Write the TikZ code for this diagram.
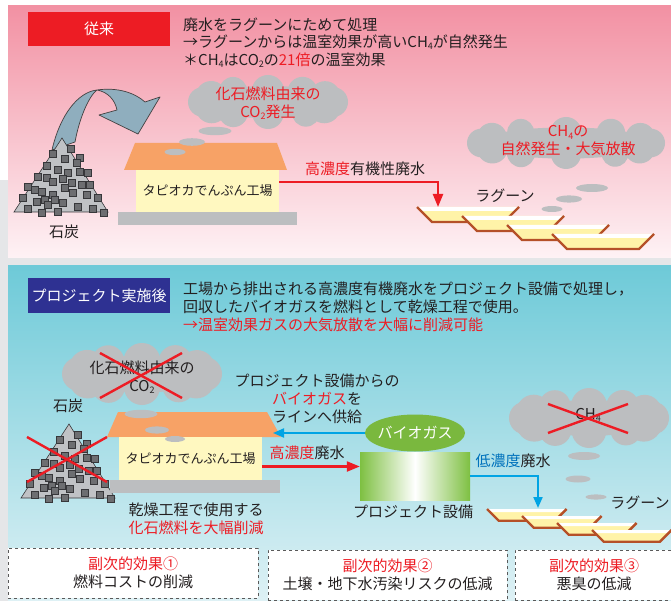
\documentclass[tikz,border=0pt]{standalone}
\usepackage{fontspec}
\setmainfont{Noto Sans CJK JP}
\usetikzlibrary{shapes.geometric,arrows.meta,calc}

\definecolor{pinktop}{RGB}{242,145,163}
\definecolor{pinkbot}{RGB}{254,242,245}
\definecolor{tealtop}{RGB}{110,202,216}
\definecolor{tealbot}{RGB}{222,241,245}
\definecolor{edgegray}{RGB}{229,230,232}
\definecolor{labred}{RGB}{237,28,36}
\definecolor{labblue}{RGB}{46,49,146}
\definecolor{ink}{RGB}{35,31,32}
\definecolor{txtred}{RGB}{237,28,36}
\definecolor{txtblue}{RGB}{0,114,188}
\definecolor{flowblue}{RGB}{0,164,228}
\definecolor{smoke}{RGB}{188,190,192}
\definecolor{roofc}{RGB}{247,162,102}
\definecolor{wallc}{RGB}{255,248,192}
\definecolor{basegray}{RGB}{188,190,192}
\definecolor{coalfill}{RGB}{192,194,197}
\definecolor{lump}{RGB}{109,110,113}
\definecolor{lumpedge}{RGB}{55,55,58}
\definecolor{ribbon}{RGB}{143,174,190}
\definecolor{pondrim}{RGB}{181,80,40}
\definecolor{pondwater}{RGB}{255,243,168}
\definecolor{biogreen}{RGB}{122,184,62}
\definecolor{tankgreen}{RGB}{126,192,66}
\definecolor{dashgray}{RGB}{90,90,90}

\newcommand\myfs[2]{\fontsize{#1}{#2}\selectfont}
\newcommand\lowsub[1]{\raisebox{-0.15em}{\fontsize{9}{9}\selectfont #1}}
% smoke cloud: centre x, centre y, half width, half height
\newcommand\smokecloud[4]{%
  \fill[smoke] (#1,#2) ellipse [x radius={#3-0.5*#4}, y radius={0.6*#4}];
  \foreach \t/\k in {0/0.55,28/0.6,55/0.52,90/0.58,122/0.54,152/0.6,180/0.55,
                     208/0.58,238/0.52,270/0.6,302/0.55,332/0.57}
    \fill[smoke] ({#1+(#3-\k*#4)*cos(\t)},{#2+(1-\k)*#4*sin(\t)}) circle [radius={\k*#4}];
}

\tikzset{
  puff/.style={fill=smoke},
  labelbox/.style={minimum width=142, text=white},
  wallbox/.style={fill=wallc, minimum width=143, font=\myfs{13}{15}},
  redflow/.style={draw=txtred, line width=2.2, -{Triangle[length=13pt,width=10pt]}},
  blueflow/.style={draw=flowblue, line width=2, -{Triangle[length=11pt,width=9pt]}},
  cross/.style={draw=txtred, line width=2.4},
  effbox/.style={draw=dashgray, fill=white, dashed, line width=0.8, align=center,
    font=\myfs{15}{18}},
  coalpile/.pic={
    \filldraw[fill=coalfill, draw=lumpedge, line width=0.6] (0,0) -- (-48,74) -- (46,74) -- cycle;
    \foreach \x/\y in {9/11,-9/16,3/21,18/20,15/25,-15/28,-4/32,6/35,18/34,26/35,
        -24/39,-15/40,-9/44,1/41,10/45,20/47,28/47,-34/49,-27/52,-20/54,-9/57,3/50,
        11/55,25/57,36/60,-39/60,-25/64,-17/62,-7/62,1/65,16/69,31/71,-34/71,-20/75,
        -4/74,42/75,-14/67}
      \filldraw[fill=lump, draw=lumpedge, line width=0.6] (\x-3.7,\y-3.7) rectangle ++(7.4,7.4);
  },
  pond/.pic={
    \fill[pondwater] (0,0) -- (102,0) -- (87,15) -- (15,15) -- cycle;
    \fill[white] (0,0) -- (102,0) -- (98,4) -- (4,4) -- cycle;
    \draw[pondrim, line width=2.4, line join=miter] (0,0) -- (15,15) -- (87,15) -- (102,0);
  }
}

\begin{document}
\begin{tikzpicture}[x=1pt, y=-1pt,
  every node/.style={font=\myfs{15}{18}, text=ink, inner sep=0pt}]
\useasboundingbox (0,0) rectangle (671,601);

% page ground and the two panels
\fill[white] (0,0) rectangle (671,601);
\fill[edgegray] (0,180) rectangle (8,601);
\fill[edgegray] (0,258) rectangle (671,266);
\shade[top color=pinktop, bottom color=pinkbot] (8,6) rectangle (671,258);
\shade[top color=tealtop, bottom color=tealbot] (8,266) rectangle (671,601);

% ================= upper panel: conventional process =================
\node[labelbox, fill=labred, minimum height=34] (old) at (99,29) {従来};
\node[anchor=west] (oldA) at (183,25) {廃水をラグーンにためて処理};
\node[anchor=west] (oldB) at (183,42.5) {→ラグーンからは温室効果が高いCH\lowsub{4}が自然発生};
\node[anchor=west] (oldC) at (183,60) {＊CH\lowsub{4}はCO\lowsub{2}の\textcolor{txtred}{21倍}の温室効果};

% emission clouds
\smokecloud{268}{102}{80}{27}
\node[text=txtred, align=center] (cloudAt) at (268,103) {化石燃料由来の\\CO\lowsub{2}発生};
\smokecloud{566}{143}{99}{26}
\node[text=txtred, align=center] (cloudBt) at (568,141) {CH\lowsub{4}の\\自然発生・大気放散};

% coal fed to the factory
\filldraw[fill=ribbon, draw=ink!85, line width=0.7, line join=round]
  (52,150) .. controls (60,115) and (78,92) .. (97,90)
  .. controls (118,87) and (135,93) .. (145,102) -- (160,97) -- (138,134) -- (99,115)
  -- (117,110) .. controls (115,100) and (108,92) .. (97,90)
  .. controls (90,95) and (80,115) .. (75,142) -- cycle;
\pic at (62,138) {coalpile};
\node (coalA) at (64,232) {石炭};

% factory
\fill[roofc] (124,170) -- (135,143) -- (277,143) -- (287,170) -- cycle;
\node[wallbox, minimum height=42] (facA) at (207.5,191) {タピオカでんぷん工場};
\fill[basegray] (118,212) rectangle (297,225);
\fill[puff] (215,131) ellipse [x radius=16.5, y radius=4.2];
\fill[puff] (192,142) ellipse [x radius=13, y radius=3.8];
\fill[puff] (175,152) ellipse [x radius=10.5, y radius=3.2];

% lagoons
\pic at (417,207) {pond};
\pic at (462,216) {pond};
\pic at (507,225) {pond};
\pic at (552,234) {pond};
\coordinate (pondA) at (438,207);
\node (lagA) at (505,196) {ラグーン};
\fill[puff] (592,188) ellipse [x radius=16, y radius=4];
\fill[puff] (569,199) ellipse [x radius=13, y radius=3.6];
\fill[puff] (552,209) ellipse [x radius=10.5, y radius=3];

% waste water to the lagoons
\coordinate (outA) at ([yshift=9pt]facA.east);
\draw[redflow] (outA) -| (pondA);
\node (wasteA) at (365,169) {\textcolor{txtred}{高濃度}有機性廃水};

% ================= lower panel: after the project =================
\node[labelbox, fill=labblue, minimum height=35] (new) at (99,295.5) {プロジェクト実施後};
\node[anchor=west] (newA) at (183,289) {工場から排出される高濃度有機廃水をプロジェクト設備で処理し，};
\node[anchor=west] (newB) at (183,307) {回収したバイオガスを燃料として乾燥工程で使用。};
\node[anchor=west, text=txtred] (newC) at (183,325) {→温室効果ガスの大気放散を大幅に削減可能};

% avoided emissions
\smokecloud{142}{374}{80}{31}
\node[align=center] (cloudCt) at (142,377) {化石燃料由来の\\CO\lowsub{2}};
\draw[cross] (100,353) -- (182,398);
\draw[cross] (100,398) -- (182,353);
\smokecloud{589}{418}{80}{30}
\node (cloudDt) at (588,415) {CH\lowsub{4}};
\draw[cross] (548,404) -- (628,433);
\draw[cross] (548,433) -- (628,404);

% coal no longer burned
\node (coalB) at (68,406) {石炭};
\pic at (69,424) {coalpile};
\draw[cross] (27,437) -- (107,482);
\draw[cross] (27,482) -- (107,437);

% factory
\fill[roofc] (107,437) -- (118,412) -- (267,412) -- (281,437) -- cycle;
\node[wallbox, minimum height=43] (facB) at (190.5,458.5) {タピオカでんぷん工場};
\fill[basegray] (110,480) rectangle (280,493);
\fill[puff] (141,414) ellipse [x radius=16.5, y radius=4.2];
\fill[puff] (157,430) ellipse [x radius=12, y radius=3.6];
\fill[puff] (175,439) ellipse [x radius=10, y radius=3];
\node[align=center] (dryB) at (196,519) {乾燥工程で使用する\\\textcolor{txtred}{化石燃料を大幅削減}};

% project equipment and biogas
\node[minimum width=110, minimum height=48, left color=tankgreen, right color=tankgreen,
  middle color=white] (plant) at (415,476) {};
\node[ellipse, fill=biogreen, minimum width=100, minimum height=37] (gas) at (415,433) {};
\node[text=white] (gastxt) at (gas.center) {バイオガス};
\node (plantB) at (413,512) {プロジェクト設備};

\coordinate (roofB) at (273,433);
\draw[blueflow] (gas.west) -- (roofB);
\node[align=center] (supply) at (317,398.5) {プロジェクト設備からの\\\textcolor{txtred}{バイオガス}を\\ラインへ供給};

\coordinate (outB) at ([yshift=-8pt]facB.east);
\draw[redflow] (outB) -- (outB -| plant.west);
\node (wasteB) at (307,453) {\textcolor{txtred}{高濃度}廃水};

% lagoons
\pic[scale=0.78] at (487,509) {pond};
\pic[scale=0.78] at (522,516) {pond};
\pic[scale=0.78] at (557,523) {pond};
\pic[scale=0.78] at (592,530) {pond};
\coordinate (pondB) at (538,508);
\draw[blueflow] (plant.east) -| (pondB);
\node (lowB) at (513,461) {\textcolor{txtblue}{低濃度}廃水};
\node (lagB) at (640,503) {ラグーン};
\fill[puff] (584,456) ellipse [x radius=16, y radius=4];
\fill[puff] (578,479) ellipse [x radius=12.5, y radius=3.5];
\fill[puff] (596,497) ellipse [x radius=10.5, y radius=2.6];

% side effects
\node[effbox, minimum width=250, minimum height=50] (effA) at (133,573)
  {\textcolor{txtred}{副次的効果①}\\燃料コストの削減};
\node[effbox, minimum width=239, minimum height=50] (effB) at (387.5,575)
  {\textcolor{txtred}{副次的効果②}\\土壌・地下水汚染リスクの低減};
\node[effbox, minimum width=158, minimum height=50] (effC) at (594,575)
  {\textcolor{txtred}{副次的効果③}\\悪臭の低減};
\end{tikzpicture}
\end{document}
